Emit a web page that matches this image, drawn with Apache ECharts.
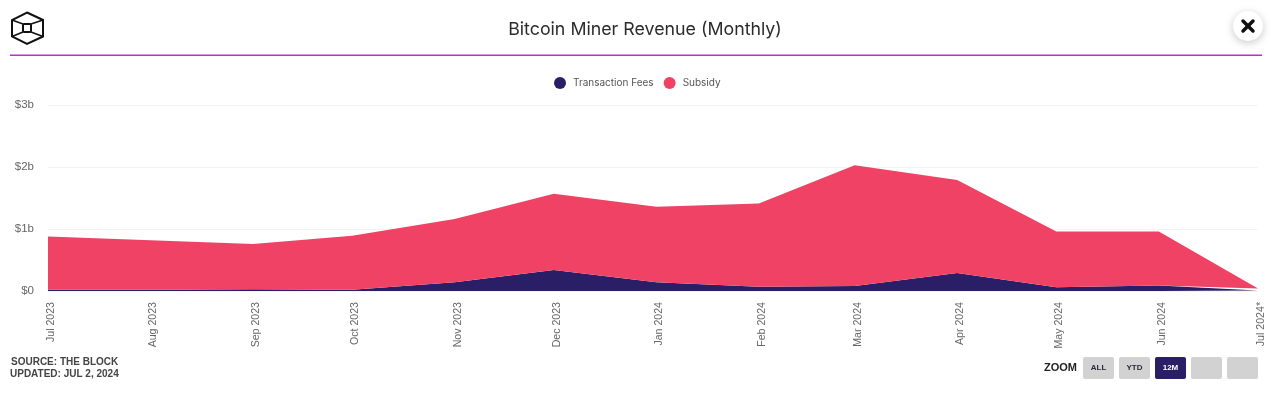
<!DOCTYPE html>
<html><head><meta charset="utf-8">
<style>html,body{margin:0;padding:0;background:#fff}#c{width:1280px;height:403px}</style>
<script src="https://cdn.jsdelivr.net/npm/echarts@6/dist/echarts.min.js"></script>
</head><body><div id="c"></div>
<script>
const dates=['2023-07-01','2023-08-01','2023-09-01','2023-10-01','2023-11-01','2023-12-01','2024-01-01','2024-02-01','2024-03-01','2024-04-01','2024-05-01','2024-06-01','2024-07-01'];
const categories=['Jul 2023','Aug 2023','Sep 2023','Oct 2023','Nov 2023','Dec 2023','Jan 2024','Feb 2024','Mar 2024','Apr 2024','May 2024','Jun 2024','Jul 2024*'];
const transactionFees=[0.02,0.02,0.03,0.02,0.14,0.34,0.14,0.07,0.08,0.29,0.06,0.09,0.01];
const subsidy=[0.86,0.80,0.73,0.87,1.02,1.23,1.22,1.34,1.95,1.50,0.90,0.87,0.03];
const yTicks={0:'$0',1:'$1b',2:'$2b',3:'$3b'};
const zoomButtons=['ALL','YTD','12M','',''];
const navy='#2a1f66',pink='#f04265';
const times=dates.map(d=>Date.parse(d+'T00:00:00Z'));
const pairs=a=>a.map((v,i)=>[times[i],v]);
const buttons=zoomButtons.map((t,i)=>({type:'group',x:1083+i*36,y:357,children:[
 {type:'rect',shape:{x:0,y:0,width:31,height:22,r:2},style:{fill:i===2?navy:'#d2d2d2'}},
 {type:'text',style:{x:15.5,y:11,text:t,align:'center',verticalAlign:'middle',font:'bold 8px "Liberation Sans"',fill:i===2?'#fff':'#2a2a3a'}}
]}));
const hex=[[27,12.5],[43,20],[43,36.5],[27,44],[12,36.5],[12,20]];
const spokes=[[12,20,23,24],[43,20,31,24],[43,36.5,31,32],[12,36.5,23,32]];
const option={
 animation:false,
 useUTC:true,
 title:{text:'Bitcoin Miner Revenue (Monthly)',left:640,top:16,textAlign:'center',textStyle:{fontFamily:'Inter',fontWeight:400,fontSize:17.8,color:'#2b2b2b'}},
 legend:{top:72,left:549,itemWidth:12,itemHeight:12,itemGap:10,icon:'circle',textStyle:{fontFamily:'Inter',fontSize:10,color:'#555',padding:[0,0,0,2]},data:['Transaction Fees','Subsidy']},
 grid:{left:48,right:22,top:105,height:186},
 xAxis:{type:'time',min:times[0],max:times[times.length-1],splitNumber:12,
  axisLine:{show:false},axisTick:{show:false},splitLine:{show:false},
  axisLabel:{rotate:90,margin:11,padding:[6,0,0,0],interval:0,fontFamily:'Liberation Sans',fontSize:10.6,fontWeight:400,color:'#666',hideOverlap:false,showMinLabel:true,showMaxLabel:true,
   formatter:v=>{const i=times.indexOf(v);return i<0?'':categories[i];}}},
 yAxis:{type:'value',min:0,max:3,interval:1,axisLine:{show:false},axisTick:{show:false},
  splitLine:{lineStyle:{color:'#f3f3f3',width:1}},
  axisLabel:{margin:14,padding:[4,0,0,0],fontFamily:'Liberation Sans',fontSize:11.5,color:'#666',formatter:v=>yTicks[v]}},
 series:[
  {name:'Transaction Fees',type:'line',stack:'t',data:pairs(transactionFees),symbol:'none',lineStyle:{width:0},itemStyle:{color:navy},areaStyle:{color:navy,opacity:1}},
  {name:'Subsidy',type:'line',stack:'t',data:pairs(subsidy),symbol:'none',lineStyle:{width:0},itemStyle:{color:pink},areaStyle:{color:pink,opacity:1}}
 ],
 graphic:[
  {type:'rect',silent:true,shape:{x:10,y:54.5,width:1252,height:1.5},style:{fill:'#cc22dd',stroke:null}},
  {type:'polygon',shape:{points:hex},style:{fill:'none',stroke:'#111',lineWidth:2}},
  {type:'rect',shape:{x:23,y:24,width:8,height:8,r:1},style:{fill:'none',stroke:'#111',lineWidth:2}},
  ...spokes.map(s=>({type:'line',shape:{x1:s[0],y1:s[1],x2:s[2],y2:s[3]},style:{stroke:'#111',lineWidth:1.6}})),
  {type:'circle',shape:{cx:1248,cy:26,r:15},style:{fill:'#fff',shadowBlur:9,shadowColor:'rgba(0,0,0,0.22)',shadowOffsetY:2}},
  {type:'line',shape:{x1:1243,y1:21,x2:1253,y2:31},style:{stroke:'#111',lineWidth:3.5,lineCap:'round'}},
  {type:'line',shape:{x1:1253,y1:21,x2:1243,y2:31},style:{stroke:'#111',lineWidth:3.5,lineCap:'round'}},
  {type:'text',style:{x:11,y:357,text:'SOURCE: THE BLOCK',font:'bold 10px "Liberation Sans"',fill:'#444'}},
  {type:'text',style:{x:10,y:369,text:'UPDATED: JUL 2, 2024',font:'bold 10px "Liberation Sans"',fill:'#444'}},
  {type:'text',style:{x:1044,y:362,text:'ZOOM',font:'bold 11px "Liberation Sans"',fill:'#222'}},
  ...buttons
 ]
};
echarts.init(document.getElementById('c'),null,{renderer:'canvas'}).setOption(option);
</script></body></html>
